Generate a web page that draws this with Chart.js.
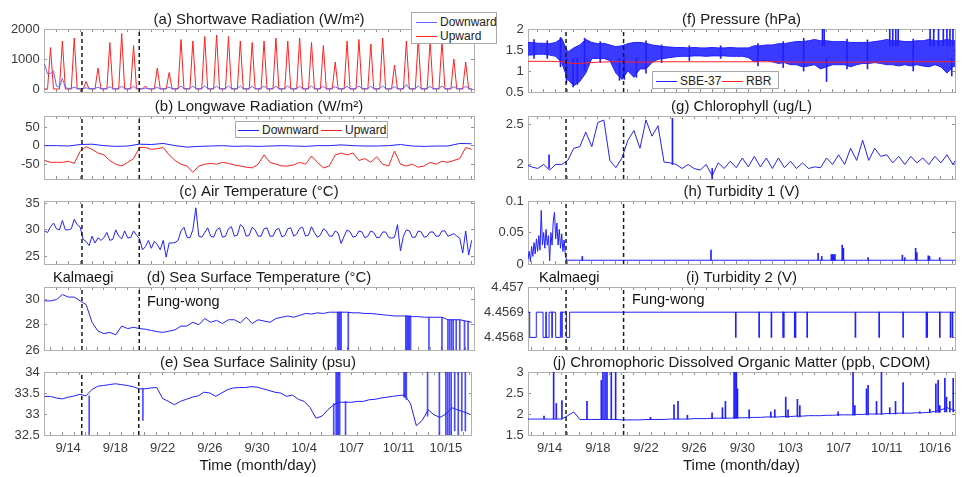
<!DOCTYPE html>
<html>
<head>
<meta charset="utf-8">
<script src="https://cdn.jsdelivr.net/npm/chart.js@4.4.1/dist/chart.umd.min.js"></script>
<style>
  body { margin: 0; width: 963px; height: 477px; position: relative; overflow: hidden; background: #fff;
         font-family: "Liberation Sans", Arial, Helvetica, sans-serif; }
  canvas { position: absolute; }
  .legend { position: absolute; background: #fff; border: 1px solid #a8a8a8; box-sizing: border-box;
            font-size: 12px; color: #222; z-index: 5; }
  .item { position: absolute; display: flex; align-items: center; height: 14px; white-space: nowrap; }
  .item i { display: inline-block; width: 21px; height: 1px; margin-right: 3px; }
  .note { position: absolute; font-size: 14.5px; line-height: 16px; color: #111; z-index: 5; white-space: nowrap; }
</style>
</head>
<body>

<div class="legend" style="left:411px;top:12px;width:86px;height:32px;">
  <div class="item" style="left:4px;top:2px"><i style="background:rgb(100,100,255)"></i>Downward</div>
  <div class="item" style="left:4px;top:16px"><i style="background:#ff2020"></i>Upward</div>
</div>
<div class="legend" style="left:235px;top:121px;width:153px;height:17px;">
  <div class="item" style="left:2px;top:1px"><i style="background:#2020ff"></i>Downward</div>
  <div class="item" style="left:85px;top:1px"><i style="background:#ff2020"></i>Upward</div>
</div>
<div class="legend" style="left:652px;top:71px;width:127px;height:18px;">
  <div class="item" style="left:3px;top:2px"><i style="background:#2020ff"></i>SBE-37</div>
  <div class="item" style="left:69px;top:2px"><i style="background:#ff2020"></i>RBR</div>
</div>

<div class="note" style="left:53px;top:269px">Kalmaegi</div>
<div class="note" style="left:147px;top:293px">Fung-wong</div>
<div class="note" style="left:539px;top:269px">Kalmaegi</div>
<div class="note" style="left:632px;top:291px">Fung-wong</div>

<script>
// x values are days after 9/14
const dateTickDays = [0, 4, 8, 12, 16, 20, 24, 28, 32];
const leftDateLabels = ["9/14", "9/18", "9/22", "9/26", "9/30", "10/4", "10/7", "10/11", "10/15"];
const rightDateLabels = ["9/14", "9/18", "9/22", "9/26", "9/30", "10/3", "10/7", "10/11", "10/16"];
const typhoonDaysLeft = [1.15, 5.98];
const typhoonDaysRight = [1.36, 6.14];

// (a) shortwave, every 6 h from day -2
const swDown = [
  830, 500, 520, 600,  100, 60, 350, 50,  20, 20, 60, 20,  10, 20, 40, 10,
  10, 20, 60, 10,  10, 20, 80, 10,  10, 20, 90, 10,  10, 20, 90, 10,
  10, 10, 30, 10,  10, 20, 50, 10,  10, 20, 60, 10,  10, 20, 100, 10,
  10, 20, 100, 10,  10, 20, 100, 10,  10, 20, 90, 10,  10, 20, 100, 10,
  10, 20, 100, 10,  10, 20, 90, 10,  10, 20, 100, 10,  10, 20, 90, 10,
  10, 20, 100, 10,  10, 20, 90, 10,  10, 20, 100, 10,  10, 20, 90, 10,
  10, 20, 80, 10,  10, 20, 90, 10,  10, 20, 100, 10,  10, 20, 90, 10,
  10, 20, 100, 10,  10, 20, 80, 10,  10, 20, 150, 10,  10, 20, 100, 10,
  10, 20, 90, 10,  10, 20, 100, 10,  10, 20, 80, 10,  10, 20, 90, 10,
  10
];
const swUp = [
  0, 0, 1380, 0,  0, 0, 1600, 0,  0, 0, 1700, 0,  0, 0, 250, 0,
  0, 0, 700, 0,  0, 0, 1550, 0,  0, 0, 1850, 0,  0, 0, 1450, 0,
  0, 0, 100, 0,  0, 0, 700, 0,  0, 0, 550, 0,  0, 0, 1650, 0,
  0, 0, 1600, 0,  0, 0, 1750, 0,  0, 0, 1800, 0,  0, 0, 1750, 0,
  0, 0, 1600, 0,  0, 0, 1550, 0,  0, 0, 1600, 0,  0, 0, 1700, 0,
  0, 0, 1600, 0,  0, 0, 1700, 0,  0, 0, 1550, 0,  0, 0, 1450, 0,
  0, 0, 900, 0,  0, 0, 1600, 0,  0, 0, 1650, 0,  0, 0, 1500, 0,
  0, 0, 1700, 0,  0, 0, 800, 0,  0, 0, 1600, 0,  0, 0, 1650, 0,
  0, 0, 1600, 0,  0, 0, 1600, 0,  0, 0, 1000, 0,  0, 0, 900, 0,
  0
];

// (b) longwave: downward daily, upward every 12 h, from day -2
const lwDown = [0, 0, -1, 3, 4, 0, -2, -1, 4, 3, 6, 0, -4, -2, -1, 0, -2, -1, -2,
  -1, 0, -1, -2, 0, 0, 2, 0, -1, -1, 0, 3, -1, -2, -1, -1, 6, 5];
const lwUp = [
  -40, -45, -45, -45, -42, -48, -15, -3,
  -10, -20, -25, -40, -50, -55, -45, -35,
  -5, -5, -10, -8, -5, -25, -40, -50,
  -55, -72, -55, -50, -48, -50, -45, -48,
  -52, -55, -58, -60, -50, -25, -45, -50,
  -55, -55, -52, -45, -50, -28, -45, -60,
  -55, -25, -20, -25, -20, -40, -35, -45,
  -30, -50, -55, -15, -50, -55, -50, -58,
  -55, -45, -50, -42, -45, -40, -35, -5,
  -10
];

// (c) air temperature, every 6 h from day -2
const airTemp = [
  29.8, 29.5, 30.6, 31.3, 30.2, 30.0, 31.8, 30.0,
  30.0, 30.2, 32.0, 31.0, 30.5, 28.2, 27.8, 27.0,
  28.8, 27.5, 28.5, 28.0, 28.5, 29.5, 28.0, 28.2,
  30.0, 28.8, 28.3, 29.8, 28.5, 28.5, 29.8, 29.0,
  28.3, 26.2, 26.8, 28.0, 26.5, 27.8, 27.2, 26.2,
  28.0, 24.8, 27.5, 27.5, 27.6, 28.0, 29.8, 30.5,
  28.6, 28.5, 30.0, 34.2, 28.8, 28.6, 29.5, 30.4,
  28.8, 28.6, 30.0, 30.4, 28.6, 28.8, 30.2, 30.6,
  28.8, 29.0, 31.0, 30.5, 28.8, 29.0, 30.5, 30.0,
  28.8, 28.8, 30.2, 30.4, 28.8, 28.8, 30.0, 30.3,
  28.7, 28.9, 30.2, 30.4, 28.8, 29.2, 30.3, 30.5,
  28.8, 29.0, 30.6, 29.5, 28.6, 29.0, 30.2, 29.8,
  28.8, 28.8, 29.8, 29.4, 27.4, 28.8, 30.0, 29.6,
  28.6, 28.8, 29.8, 29.6, 28.5, 28.8, 29.8, 29.5,
  28.5, 28.6, 29.6, 29.6, 28.6, 28.4, 28.6, 31.0,
  26.0, 28.8, 30.0, 29.8, 28.6, 28.6, 29.8, 29.6,
  28.6, 28.8, 29.6, 29.6, 28.8, 28.8, 29.8, 29.8,
  28.8, 29.0, 29.3, 28.8, 28.4, 25.6, 29.8, 25.2,
  28.0
];

// (d) sea surface temperature, every 12 h from day -2, plus dropouts
const sst = [
  29.9, 29.9, 30.0, 30.4, 30.2, 30.2, 29.9, 29.6,
  28.2, 27.5, 27.3, 27.4, 27.2, 27.9, 27.7, 27.8,
  27.7, 27.65, 27.55, 27.45, 27.4, 27.5, 27.6, 27.9,
  27.9, 28.2, 28.0, 28.5, 28.2, 28.35, 28.1, 28.4,
  28.4, 28.15, 28.6, 28.1, 28.4, 28.3, 28.2, 28.5,
  28.6, 28.7, 28.6, 28.75, 28.9, 28.85, 28.95, 28.9,
  29.0, 29.0, 29.0, 29.0, 28.95, 28.95, 28.9, 28.9,
  28.85, 28.8, 28.75, 28.7, 28.7, 28.7, 28.65, 28.65,
  28.6, 28.6, 28.6, 28.6, 28.4, 28.4, 28.4, 28.3,
  28.2
];
const sstDropDays = [22.7, 22.8, 22.9, 23.0, 23.6, 28.45, 28.55, 28.65, 28.75, 28.85,
  30.4, 31.5, 32.0, 32.15, 32.3, 32.45, 32.7, 33.0, 33.4, 33.7];
const sstDropTops = [29.0, 29.0, 29.0, 29.0, 29.0, 28.7, 28.7, 28.7, 28.7, 28.7,
  28.6, 28.6, 28.4, 28.4, 28.4, 28.4, 28.4, 28.4, 28.3, 28.3];
const sstDropFloor = 25.9;

// (e) sea surface salinity, every 12 h from day -2, plus spikes
const salinity = [
  33.42, 33.42, 33.38, 33.36, 33.40, 33.43, 33.47, 33.43,
  33.58, 33.66, 33.68, 33.70, 33.72, 33.70, 33.68, 33.65,
  33.60, 33.60, 33.62, 33.63, 33.37, 33.30, 33.22, 33.30,
  33.35, 33.40, 33.43, 33.52, 33.50, 33.42, 33.50, 33.58,
  33.62, 33.63, 33.63, 33.65, 33.64, 33.60, 33.56, 33.52,
  33.50, 33.42, 33.45, 33.35, 33.30, 33.15, 32.90, 32.95,
  33.10, 33.22, 33.28, 33.28, 33.28, 33.30, 33.30, 33.34,
  33.35, 33.38, 33.40, 33.42, 33.44, 33.45, 33.25, 32.72,
  32.85, 33.10, 32.98, 32.92, 33.00, 33.15, 33.10, 33.05,
  33.00
];
const salSpikeDays = [1.78, 6.33, 22.5, 22.7, 22.8, 22.9, 23.0, 23.5, 28.45, 28.55, 28.65,
  30.45, 31.45, 32.0, 32.15, 32.3, 32.45, 32.75, 33.05, 33.35, 33.65];
const salSpikeLows = [32.4, 32.85, 32.5, 32.4, 32.4, 32.4, 32.4, 32.4, 33.4, 33.4, 33.35,
  32.95, 32.4, 32.4, 32.4, 32.4, 32.4, 32.6, 32.4, 32.6, 32.6];
const salSpikeHighs = [33.43, 33.6, 33.25, 34.1, 34.1, 34.1, 34.1, 33.3, 34.1, 34.1, 34.1,
  34.1, 34.1, 34.1, 34.1, 34.1, 34.1, 34.1, 34.1, 34.1, 34.1];

// (f) pressure: SBE-37 noise band (upper / lower edge) every 12 h, RBR daily
const presUpper = [
  1.68, 1.68, 1.66, 1.66, 1.65, 1.68, 1.78, 1.45,
  1.55, 1.62, 1.75, 1.68, 1.65, 1.66, 1.62, 1.58,
  1.60, 1.65, 1.68, 1.68, 1.66, 1.62, 1.60, 1.58,
  1.57, 1.56, 1.56, 1.55, 1.56, 1.55, 1.55, 1.56,
  1.55, 1.55, 1.56, 1.55, 1.55, 1.55, 1.60, 1.60,
  1.62, 1.62, 1.65, 1.65, 1.68, 1.70, 1.70, 1.72,
  1.75, 1.72, 1.72, 1.70, 1.70, 1.70, 1.68, 1.68,
  1.68, 1.68, 1.70, 1.72, 1.75, 1.72, 1.72, 1.70,
  1.70, 1.72, 1.72, 1.75, 1.72, 1.72, 1.75, 1.72,
  1.72
];
const presLower = [
  1.38, 1.38, 1.40, 1.40, 1.38, 1.35, 1.20, 0.80,
  0.65, 0.75, 0.95, 1.30, 1.30, 1.30, 1.25, 0.95,
  0.80, 1.00, 0.85, 1.05, 1.05, 1.20, 1.28, 1.30,
  1.32, 1.34, 1.35, 1.35, 1.36, 1.36, 1.35, 1.36,
  1.36, 1.36, 1.35, 1.35, 1.35, 1.32, 1.22, 1.25,
  1.25, 1.22, 1.18, 1.20, 1.15, 1.15, 1.10, 1.12,
  1.15, 1.05, 1.10, 1.15, 1.15, 1.15, 1.10, 1.15,
  1.18, 1.18, 1.20, 1.18, 1.15, 1.15, 1.12, 1.15,
  1.12, 1.15, 1.12, 1.10, 1.15, 1.10, 0.95, 1.10,
  1.15
];
const presSpikeDays = [-1.3, -0.2, 0.9, 1.4, 1.95, 2.3, 2.9, 4.2, 5.8, 6.2, 7.2, 8.0, 9.3, 11.6,
  14.2, 17.3, 19.4, 21.1, 22.66, 22.8, 23.0, 24.7, 26.4, 28.25, 28.5, 28.75, 28.95,
  30.2, 31.6, 31.9, 32.3, 32.7, 33.0, 33.25, 33.4, 33.5];
const presSpikeLows = [1.3, 1.3, 1.1, 0.72, 0.62, 0.68, 1.0, 1.2, 0.78, 0.8, 0.85, 0.95, 1.2, 1.25,
  1.3, 1.12, 1.08, 1.0, 1.6, 1.6, 0.75, 1.05, 1.05, 1.6, 1.6, 1.6, 1.6,
  1.0, 1.6, 1.6, 1.6, 1.6, 1.6, 1.6, 0.88, 1.6];
const presSpikeHighs = [1.75, 1.72, 1.8, 1.3, 1.3, 1.3, 1.78, 1.7, 1.3, 1.3, 1.3, 1.72, 1.62, 1.6,
  1.6, 1.65, 1.7, 1.78, 2.05, 2.05, 1.3, 1.76, 1.74, 2.05, 2.05, 2.05, 2.05,
  1.76, 2.05, 2.05, 2.05, 2.05, 2.05, 2.05, 1.3, 2.05];
const rbr = [1.23, 1.23, 1.23, 1.22, 1.18, 1.19, 1.21, 1.22, 1.22, 1.21, 1.21, 1.22, 1.22,
  1.22, 1.22, 1.22, 1.22, 1.22, 1.22, 1.22, 1.22, 1.22, 1.21, 1.21, 1.21, 1.21, 1.21,
  1.21, 1.21, 1.21, 1.22, 1.22, 1.22, 1.22, 1.22, 1.22, 1.22];

// (g) chlorophyll, every 12 h from day -2, plus spikes
const chl = [
  2.00, 1.97, 1.95, 2.00, 1.93, 2.00, 2.00, 2.05,
  2.20, 2.22, 2.40, 2.22, 2.52, 2.55, 2.05, 1.96,
  2.08, 2.30, 2.42, 2.20, 2.55, 2.35, 2.48, 2.03,
  2.02, 2.00, 1.95, 2.00, 1.95, 1.93, 2.00, 1.86,
  2.02, 1.95, 2.04, 1.96, 2.08, 1.97, 2.10, 1.97,
  2.08, 1.95, 2.08, 1.96, 2.04, 1.95, 2.02, 1.95,
  1.97, 1.96, 2.08, 2.00, 2.12, 2.00, 2.20, 2.05,
  2.30, 2.05, 2.20, 2.10, 2.12, 2.02, 2.10, 2.00,
  2.10, 2.02, 2.08, 2.00, 2.10, 2.02, 2.12, 2.00,
  2.12
];
const chlSpikeDays = [-0.05, 10.2, 13.5];
const chlSpikeLows = [1.95, 2.0, 1.82];
const chlSpikeHighs = [2.12, 2.57, 1.95];

// (h) turbidity 1: noisy start every 0.1 day from day -1.8, then flat with spikes
const turb1Early = [
  0.008, 0.02, 0.004, 0.028, 0.012, 0.034, 0.016, 0.04, 0.02, 0.045, 0.022,
  0.085, 0.03, 0.05, 0.025, 0.055, 0.03, 0.045, 0.005, 0.05, 0.03, 0.068,
  0.082, 0.04, 0.065, 0.03, 0.055, 0.025, 0.048, 0.02, 0.038, 0.015, 0.006
];
const turb1BaseDays = [1.4, 34];
const turb1BaseVals = [0.006, 0.006];
const turb1SpikeDays = [2.71, 13.4, 22.3, 22.6, 23.4, 23.5, 23.6, 23.7, 24.3, 24.4, 26.45,
  29.3, 29.5, 30.4, 30.5, 31.45, 31.55, 32.4, 33.85];
const turb1SpikeTops = [0.012, 0.022, 0.017, 0.012, 0.015, 0.015, 0.015, 0.015, 0.03, 0.025, 0.01,
  0.014, 0.01, 0.025, 0.018, 0.013, 0.012, 0.01, 0.018];
const turb1Floor = 0.006;

// (i) turbidity 2: level changes, then one-sample drops
const turb2Days = [-2, -1.66, -1.11, -0.55, -0.05, 0.5, 0.89, 1.39, 1.66, 34];
const turb2Vals = [4.4569, 4.4568, 4.4569, 4.4568, 4.4569, 4.4568, 4.4569, 4.4568, 4.4569, 4.4569];
const turb2DropDays = [-0.3, 0.2, 1.02, 15.46, 17.4, 18.42, 19.39, 19.45, 20.36, 20.42, 21.39,
  25.4, 27.37, 29.36, 31.3, 31.36, 32.41, 33.3, 33.46];

// (j) CDOM, every 12 h from day -2, plus spikes
const cdom = [
  1.88, 1.88, 1.88, 1.88, 1.88, 1.88, 1.88, 1.96,
  2.05, 1.87, 1.87, 1.87, 1.87, 1.87, 1.87, 1.87,
  1.86, 1.86, 1.86, 1.86, 1.87, 1.87, 1.87, 1.87,
  1.88, 1.88, 1.88, 1.88, 1.89, 1.89, 1.89, 1.90,
  1.90, 1.90, 1.90, 1.91, 1.91, 1.91, 1.92, 1.92,
  1.93, 1.93, 1.93, 1.94, 1.94, 1.95, 1.95, 1.96,
  1.96, 1.96, 1.97, 1.97, 1.98, 1.98, 1.98, 1.99,
  1.99, 2.00, 2.00, 2.00, 2.01, 2.01, 2.02, 2.02,
  2.02, 2.03, 2.03, 2.04, 2.06, 2.10, 2.15, 2.10,
  2.05
];
const cdomSpikeDays = [-0.47, 0.33, 0.55, 1.02, 3.1, 4.29, 4.43, 4.6, 4.76, 5.12, 5.48, 8.37,
  10.33, 10.66, 11.44, 13.49, 14.35, 14.6, 15.32, 15.4, 15.51, 15.6, 16.57, 18.37, 18.7,
  19.61, 19.8, 20.58, 20.78, 23.96, 25.2, 25.35, 26.32, 26.45, 27.15, 27.56, 28.25, 28.73,
  29.36, 30.75, 31.58, 32.08, 32.27, 32.41, 32.83, 32.96, 33.24, 33.52, 33.85];
const cdomSpikeTops = [1.95, 3.1, 2.25, 2.32, 2.3, 2.8, 3.1, 3.1, 3.1, 3.1, 3.1, 1.92,
  2.22, 2.3, 1.97, 2.03, 2.15, 2.3, 3.1, 3.1, 3.1, 2.6, 2.1, 2.05, 2.1,
  2.4, 2.1, 2.35, 2.2, 2.05, 3.1, 2.2, 2.6, 2.68, 2.3, 3.1, 2.15, 2.3,
  2.75, 2.05, 2.12, 2.72, 2.8, 2.2, 2.85, 2.4, 2.3, 2.85, 2.6];
const cdomSpikeFeet = [1.88, 1.88, 1.88, 1.88, 1.87, 1.87, 1.87, 1.87, 1.87, 1.87, 1.87, 1.87,
  1.88, 1.88, 1.88, 1.89, 1.89, 1.89, 1.9, 1.9, 1.9, 1.9, 1.9, 1.92, 1.92,
  1.92, 1.92, 1.93, 1.93, 1.96, 1.97, 1.97, 1.98, 1.98, 1.99, 1.99, 2.0, 2.0,
  2.01, 2.02, 2.03, 2.04, 2.04, 2.04, 2.05, 2.05, 2.05, 2.05, 2.05];

// ---------- drawing ----------
const BLUE = "#2020ff";
const RED = "#ff2020";
const BOX = "#b0b0b0";
const TICK = "#909090";
const TXT = "#3a3a3a";
const FONT = '"Liberation Sans", Arial, Helvetica, sans-serif';

const COLS = [
  { x: 44, w: 430, range: [-2.05, 34.2], labels: leftDateLabels, typhoons: typhoonDaysLeft },
  { x: 528, w: 427, range: [-1.8, 33.67], labels: rightDateLabels, typhoons: typhoonDaysRight },
];
const ROWS = [29, 116, 201, 287, 372];
const BOX_H = 63;
const TITLE_H = 22;
const Y_W = 44;
// y tick labels stick out half a line + padding below the box; chart.js keeps that room
const Y_LABEL_ROOM = 15;

function series(t0, step, vals) {
  return vals.map((v, i) => ({ x: t0 + i * step, y: v }));
}
function pairs(days, vals) {
  return days.map((d, i) => ({ x: d, y: vals[i] }));
}
function floating(days, lows, highs) {
  return days.map((d, i) => ({ x: d, y: [lows[i], highs[i]] }));
}
function line(data, color, extra) {
  return Object.assign({ type: "line", data, borderColor: color, borderWidth: 1, pointRadius: 0,
    fill: false, tension: 0, xAxisID: "x", yAxisID: "y" }, extra || {});
}
function spikes(data, color) {
  return { type: "bar", data, backgroundColor: color, borderWidth: 0, barThickness: 1,
    xAxisID: "x", yAxisID: "y" };
}
function typhoonLines(days, yr) {
  const pts = [];
  days.forEach((d) => pts.push({ x: d, y: yr[0] }, { x: d, y: yr[1] }, { x: d, y: null }));
  return line(pts, "#1a1a1a", { borderWidth: 1.5, borderDash: [4, 3], spanGaps: false });
}

function xScale(col, pos, labelled) {
  const days = [];
  for (let d = Math.ceil(col.range[0]); d <= col.range[1]; d++) days.push(d);
  return {
    type: "linear", position: pos, min: col.range[0], max: col.range[1], bounds: "data", offset: false,
    border: { display: true, color: BOX },
    grid: { drawOnChartArea: false, drawTicks: true, tickLength: -3, color: TICK },
    ticks: {
      display: labelled, autoSkip: false, maxRotation: 0, padding: 8.5, color: TXT,
      font: { family: FONT, size: 13 },
      callback: (v) => {
        const i = dateTickDays.indexOf(v);
        return i < 0 ? "" : col.labels[i];
      },
    },
    title: { display: labelled, text: "Time (month/day)", color: "#1a1a1a",
      font: { family: FONT, size: 15 }, padding: { top: 0, bottom: 6.3 } },
    afterBuildTicks: (s) => { s.ticks = days.map((v) => ({ value: v })); },
    afterFit: (s) => { s.height = labelled ? 46 : 0; },
  };
}

function yScale(yr, ticks, pos) {
  return {
    type: "linear", position: pos, min: yr[0], max: yr[1], bounds: "data",
    border: { display: true, color: BOX },
    grid: { drawOnChartArea: false, drawTicks: true, tickLength: -3, color: TICK },
    ticks: { display: pos === "left", autoSkip: false, padding: 7.2, color: TXT,
      font: { family: FONT, size: 13 }, callback: (v) => String(v) },
    afterBuildTicks: (s) => { s.ticks = ticks.map((v) => ({ value: v })); },
    afterFit: (s) => { s.width = pos === "left" ? Y_W : 0; },
  };
}

function panel(colIdx, row, title, yr, yTicks, datasets) {
  const col = COLS[colIdx];
  const bottom = row === ROWS.length - 1;
  const canvas = document.createElement("canvas");
  canvas.width = Y_W + col.w + 4;
  canvas.height = TITLE_H + BOX_H + (bottom ? 46 : Y_LABEL_ROOM);
  canvas.style.left = col.x - Y_W + "px";
  canvas.style.top = ROWS[row] - TITLE_H + "px";
  document.body.appendChild(canvas);

  new Chart(canvas, {
    type: "line",
    data: { datasets: [typhoonLines(col.typhoons, yr)].concat(datasets) },
    options: {
      responsive: false,
      animation: false,
      events: [],
      layout: { padding: { right: 4, bottom: 0 } },
      plugins: {
        legend: { display: false },
        tooltip: { enabled: false },
        title: { display: true, text: title, fullSize: false, color: "#1a1a1a",
          font: { family: FONT, size: 15, weight: "normal" }, padding: { top: 3.5, bottom: 0.5 } },
      },
      scales: {
        x: xScale(col, "bottom", bottom),
        xt: xScale(col, "top", false),
        y: yScale(yr, yTicks, "left"),
        yr: yScale(yr, yTicks, "right"),
      },
    },
  });
}

// left column
panel(0, 0, "(a) Shortwave Radiation (W/m²)", [-100, 2000], [0, 1000, 2000], [
  line(series(-2, 0.25, swDown), "rgb(100,100,255)"),
  line(series(-2, 0.25, swUp), RED),
]);
panel(0, 1, "(b) Longwave Radiation (W/m²)", [-90, 80], [-50, 0, 50], [
  line(series(-2, 1, lwDown), BLUE),
  line(series(-2, 0.5, lwUp), RED),
]);
panel(0, 2, "(c) Air Temperature (°C)", [23.5, 35.5], [25, 30, 35], [
  line(series(-2, 0.25, airTemp), BLUE),
]);
panel(0, 3, "(d) Sea Surface Temperature (°C)", [26, 31], [26, 28, 30], [
  spikes(floating(sstDropDays, sstDropDays.map(() => sstDropFloor), sstDropTops), "rgba(32,32,255,0.8)"),
  line(series(-2, 0.5, sst), BLUE),
]);
panel(0, 4, "(e) Sea Surface Salinity (psu)", [32.5, 34], [32.5, 33, 33.5, 34], [
  spikes(floating(salSpikeDays, salSpikeLows, salSpikeHighs), "rgba(32,32,255,0.8)"),
  line(series(-2, 0.5, salinity), BLUE),
]);

// right column
panel(1, 0, "(f) Pressure (hPa)", [0.5, 2], [0.5, 1, 1.5, 2], [
  line(series(-2, 1, rbr), RED),
  spikes(floating(presSpikeDays, presSpikeLows, presSpikeHighs), BLUE),
  line(series(-2, 0.5, presUpper), BLUE, { fill: "+1", backgroundColor: "rgba(32,32,255,0.88)" }),
  line(series(-2, 0.5, presLower), BLUE),
]);
panel(1, 1, "(g) Chlorophyll (ug/L)", [1.82, 2.6], [2, 2.5], [
  spikes(floating(chlSpikeDays, chlSpikeLows, chlSpikeHighs), BLUE),
  line(series(-2, 0.5, chl), BLUE),
]);
panel(1, 2, "(h) Turbidity 1 (V)", [0, 0.1], [0, 0.05, 0.1], [
  spikes(floating(turb1SpikeDays, turb1SpikeDays.map(() => turb1Floor), turb1SpikeTops), BLUE),
  line(series(-1.8, 0.1, turb1Early), BLUE),
  line(pairs(turb1BaseDays, turb1BaseVals), BLUE),
]);
panel(1, 3, "(i) Turbidity 2 (V)", [4.45675, 4.457], [4.4568, 4.4569, 4.457], [
  spikes(floating(turb2DropDays, turb2DropDays.map(() => 4.4568), turb2DropDays.map(() => 4.4569)), BLUE),
  line(pairs(turb2Days, turb2Vals), BLUE, { stepped: true }),
]);
panel(1, 4, "(j) Chromophoric Dissolved Organic Matter (ppb, CDOM)", [1.5, 3], [1.5, 2, 2.5, 3], [
  spikes(floating(cdomSpikeDays, cdomSpikeFeet, cdomSpikeTops), BLUE),
  line(series(-2, 0.5, cdom), BLUE),
]);
</script>
</body>
</html>
